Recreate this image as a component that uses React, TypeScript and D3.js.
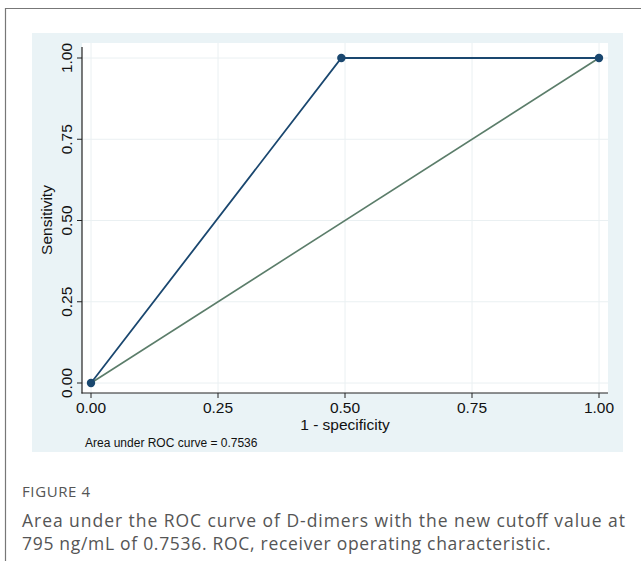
import React from "react";
import * as d3 from "d3";

const fpr = [0, 0.4928, 1];
const tpr = [0, 1, 1];
const refX = [0, 1];
const refY = [0, 1];
const ticks = [0, 0.25, 0.5, 0.75, 1];
const tickLabels = ["0.00", "0.25", "0.50", "0.75", "1.00"];
const aucText = "Area under ROC curve = 0.7536";
const xTitle = "1 - specificity";
const yTitle = "Sensitivity";
const figLabel = "FIGURE 4";
const captionLines = [
  "Area under the ROC curve of D-dimers with the new cutoff value at",
  "795 ng/mL of 0.7536. ROC, receiver operating characteristic.",
];

export default function App() {
  const x = d3.scaleLinear().domain([0, 1]).range([91, 599]);
  const y = d3.scaleLinear().domain([0, 1]).range([383, 58]);
  const line = d3
    .line<[number, number]>()
    .x((d) => x(d[0]))
    .y((d) => y(d[1]));
  const rocPts: [number, number][] = fpr.map((v, i) => [v, tpr[i]]);
  const refPts: [number, number][] = refX.map((v, i) => [v, refY[i]]);
  const navy = "#1a476f";
  const green = "#5b7d6a";
  const axisFont = "'Liberation Sans', Arial, sans-serif";
  const capFont = "'Open Sans', 'Noto Sans', sans-serif";

  return (
    <svg
      width={641}
      height={561}
      style={{ position: "absolute", left: 0, top: 0, background: "#fff" }}
    >
      {/* outer frame */}
      <path d="M5.5,561 L5.5,8.5 L641,8.5" fill="none" stroke="#777" strokeWidth={1.2} />
      {/* panel */}
      <rect x={32} y={33} width={591} height={419} fill="#eaf3f6" />
      <rect x={82} y={43} width={526} height={350} fill="#ffffff" />
      {/* grid */}
      {ticks.map((t) => (
        <line key={"gx" + t} x1={x(t)} x2={x(t)} y1={43} y2={393} stroke="#eaf0f2" strokeWidth={1} />
      ))}
      {ticks.map((t) => (
        <line key={"gy" + t} x1={82} x2={608} y1={y(t)} y2={y(t)} stroke="#eaf0f2" strokeWidth={1} />
      ))}
      {/* axes */}
      <line x1={82} x2={82} y1={47} y2={393.5} stroke="#222" strokeWidth={1.2} />
      <line x1={81.5} x2={608} y1={393} y2={393} stroke="#222" strokeWidth={1.2} />
      {ticks.map((t, i) => (
        <g key={"ty" + t}>
          <line x1={77} x2={82} y1={y(t)} y2={y(t)} stroke="#222" strokeWidth={1} />
          <text
            transform={`translate(72,${y(t)}) rotate(-90)`}
            textAnchor="middle"
            fontFamily={axisFont}
            fontSize={15.5}
            fill="#111"
          >
            {tickLabels[i]}
          </text>
        </g>
      ))}
      {ticks.map((t, i) => (
        <g key={"tx" + t}>
          <line x1={x(t)} x2={x(t)} y1={393} y2={398} stroke="#222" strokeWidth={1} />
          <text x={x(t)} y={413} textAnchor="middle" fontFamily={axisFont} fontSize={15.5} fill="#111">
            {tickLabels[i]}
          </text>
        </g>
      ))}
      <text x={345} y={430} textAnchor="middle" fontFamily={axisFont} fontSize={15.5} fill="#111">
        {xTitle}
      </text>
      <text
        transform={`translate(52,220) rotate(-90)`}
        textAnchor="middle"
        fontFamily={axisFont}
        fontSize={15.5}
        fill="#111"
      >
        {yTitle}
      </text>
      <text x={85} y={447} fontFamily={axisFont} fontSize={12} fill="#111">
        {aucText}
      </text>
      {/* lines */}
      <path d={line(refPts) || ""} fill="none" stroke={green} strokeWidth={1.6} />
      <path d={line(rocPts) || ""} fill="none" stroke={navy} strokeWidth={1.8} />
      {rocPts.map((p, i) => (
        <circle key={"m" + i} cx={x(p[0])} cy={y(p[1])} r={4.2} fill={navy} />
      ))}
      {/* caption */}
      <text x={22} y={497} fontFamily={capFont} fontSize={15} letterSpacing={0.6} fill="#555">
        {figLabel}
      </text>
      <text
        x={22}
        y={527}
        fontFamily={capFont}
        fontSize={17.5}
        fill="#555"
        textLength={603}
        lengthAdjust="spacing"
      >
        {captionLines[0]}
      </text>
      <text x={22} y={550} fontFamily={capFont} fontSize={17.5} letterSpacing={0.7} fill="#555">
        {captionLines[1]}
      </text>
    </svg>
  );
}
